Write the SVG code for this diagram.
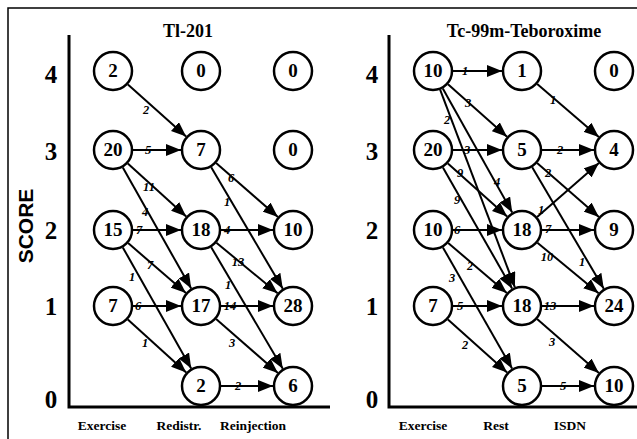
<svg xmlns="http://www.w3.org/2000/svg" width="637" height="439" viewBox="0 0 637 439">
<defs>
<marker id="ah" markerUnits="userSpaceOnUse" markerWidth="15" markerHeight="12" refX="15" refY="6" orient="auto">
<path d="M0,0 L15,6 L0,12 z" fill="#000"/>
</marker>
</defs>
<style>
.bg{fill:#fff}
.frame{stroke:#000;stroke-width:1.5;fill:none}
.axis{stroke:#000;stroke-width:3;fill:none}
.node circle{fill:#fff;stroke:#000;stroke-width:2.5}
.node text{font-family:"Liberation Serif",serif;font-weight:bold;font-size:19px;text-anchor:middle}
.edges line{stroke:#000;stroke-width:2;marker-end:url(#ah)}
.el{font-family:"Liberation Serif",serif;font-weight:bold;font-style:italic;font-size:12.5px;text-anchor:middle}
.tick{font-family:"Liberation Serif",serif;font-weight:bold;font-size:25px;text-anchor:middle}
.title{font-family:"Liberation Serif",serif;font-weight:bold;font-size:18px;text-anchor:middle}
.xl{font-family:"Liberation Serif",serif;font-weight:bold;font-size:13.5px;text-anchor:middle}
.score{font-family:"Liberation Sans",sans-serif;font-weight:bold;font-size:21px;text-anchor:middle}
</style>
<rect class="bg" x="0" y="0" width="637" height="439"/>
<path class="frame" d="M8,439 L8,8 L637,8"/>
<g id="axes">
<path class="axis" d="M69,35 L69,407 L330,407"/>
<path class="axis" d="M389,35 L389,407 L637,407"/>
<text class="score" transform="translate(33,226) rotate(-90)">SCORE</text>
<text class="tick" x="51" y="83">4</text>
<text class="tick" x="51" y="160">3</text>
<text class="tick" x="51" y="239">2</text>
<text class="tick" x="51" y="315">1</text>
<text class="tick" x="51" y="408">0</text>
<text class="tick" x="372" y="83">4</text>
<text class="tick" x="372" y="160">3</text>
<text class="tick" x="372" y="239">2</text>
<text class="tick" x="372" y="315">1</text>
<text class="tick" x="372" y="408">0</text>
<text class="title" x="188" y="37">Tl-201</text>
<text class="title" x="524" y="37">Tc-99m-Teboroxime</text>
<text class="xl" x="102" y="430">Exercise</text>
<text class="xl" x="179" y="430">Redistr.</text>
<text class="xl" x="253" y="430">Reinjection</text>
<text class="xl" x="423" y="430">Exercise</text>
<text class="xl" x="496" y="430">Rest</text>
<text class="xl" x="570" y="430">ISDN</text>
</g>
<g id="connectors" class="edges">
<line x1="127.9" y1="84.4" x2="186.1" y2="136.6"/>
<line x1="133" y1="150" x2="181" y2="150"/>
<line x1="127.8" y1="163.5" x2="186.2" y2="216.5"/>
<line x1="122.8" y1="167.4" x2="191.2" y2="288.6"/>
<line x1="216.1" y1="163.1" x2="277.9" y2="216.9"/>
<line x1="211.2" y1="167.2" x2="282.8" y2="288.8"/>
<line x1="133" y1="230" x2="181" y2="230"/>
<line x1="128.1" y1="243.1" x2="185.9" y2="292.9"/>
<line x1="122.8" y1="247.4" x2="191.2" y2="368.6"/>
<line x1="221" y1="230" x2="273" y2="230"/>
<line x1="216.4" y1="242.7" x2="277.6" y2="293.3"/>
<line x1="211.2" y1="247.2" x2="282.8" y2="368.8"/>
<line x1="133" y1="306" x2="181" y2="306"/>
<line x1="127.8" y1="319.5" x2="186.2" y2="372.5"/>
<line x1="221" y1="306" x2="273" y2="306"/>
<line x1="216.1" y1="319.1" x2="277.9" y2="372.9"/>
<line x1="221" y1="386" x2="273" y2="386"/>
<line x1="453" y1="71" x2="502" y2="71"/>
<line x1="448" y1="84.3" x2="507" y2="136.7"/>
<line x1="442.8" y1="88.5" x2="512.2" y2="212.5"/>
<line x1="440.1" y1="89.7" x2="514.9" y2="287.3"/>
<line x1="453" y1="150" x2="502" y2="150"/>
<line x1="447.9" y1="163.4" x2="507.1" y2="216.6"/>
<line x1="442.9" y1="167.4" x2="512.1" y2="288.6"/>
<line x1="537.2" y1="84" x2="598.8" y2="137"/>
<line x1="542" y1="150" x2="594" y2="150"/>
<line x1="537.1" y1="163.1" x2="598.9" y2="216.9"/>
<line x1="532.2" y1="167.2" x2="603.8" y2="288.8"/>
<line x1="537.1" y1="216.9" x2="598.9" y2="163.1"/>
<line x1="542" y1="230" x2="594" y2="230"/>
<line x1="537.4" y1="242.7" x2="598.6" y2="293.3"/>
<line x1="453" y1="230" x2="502" y2="230"/>
<line x1="448.2" y1="243" x2="506.8" y2="293"/>
<line x1="442.9" y1="247.4" x2="512.1" y2="368.6"/>
<line x1="453" y1="306" x2="502" y2="306"/>
<line x1="447.9" y1="319.4" x2="507.1" y2="372.6"/>
<line x1="542" y1="306" x2="594" y2="306"/>
<line x1="537.1" y1="319.1" x2="598.9" y2="372.9"/>
<line x1="542" y1="386" x2="594" y2="386"/>
</g>
<g id="edge-labels">
<text class="el" x="146" y="114">2</text>
<text class="el" x="148" y="154">5</text>
<text class="el" x="149" y="191">11</text>
<text class="el" x="145" y="216">4</text>
<text class="el" x="231" y="182">6</text>
<text class="el" x="227" y="206">1</text>
<text class="el" x="139" y="234">7</text>
<text class="el" x="150" y="269">7</text>
<text class="el" x="132" y="281">1</text>
<text class="el" x="227" y="234">4</text>
<text class="el" x="238" y="266">13</text>
<text class="el" x="228" y="289">1</text>
<text class="el" x="138" y="310">6</text>
<text class="el" x="145" y="347">1</text>
<text class="el" x="230" y="310">14</text>
<text class="el" x="232" y="347">3</text>
<text class="el" x="238" y="390">2</text>
<text class="el" x="465" y="75">1</text>
<text class="el" x="468" y="107">3</text>
<text class="el" x="497" y="186">4</text>
<text class="el" x="447" y="124">2</text>
<text class="el" x="467" y="154">3</text>
<text class="el" x="460" y="177">9</text>
<text class="el" x="457" y="204">9</text>
<text class="el" x="553" y="104">1</text>
<text class="el" x="560" y="154">2</text>
<text class="el" x="548" y="177">2</text>
<text class="el" x="582" y="266">1</text>
<text class="el" x="541" y="214">1</text>
<text class="el" x="548" y="233">7</text>
<text class="el" x="547" y="261">10</text>
<text class="el" x="457" y="234">6</text>
<text class="el" x="470" y="270">2</text>
<text class="el" x="452" y="282">3</text>
<text class="el" x="460" y="310">5</text>
<text class="el" x="465" y="349">2</text>
<text class="el" x="550" y="310">13</text>
<text class="el" x="552" y="346">3</text>
<text class="el" x="563" y="390">5</text>
</g>
<g id="tl-ex-4" class="node"><circle cx="113" cy="71" r="19"/><text x="113" y="77">2</text></g>
<g id="tl-rd-4" class="node"><circle cx="201" cy="71" r="19"/><text x="201" y="77">0</text></g>
<g id="tl-rj-4" class="node"><circle cx="293" cy="71" r="19"/><text x="293" y="77">0</text></g>
<g id="tl-ex-3" class="node"><circle cx="113" cy="150" r="19"/><text x="113" y="156">20</text></g>
<g id="tl-rd-3" class="node"><circle cx="201" cy="150" r="19"/><text x="201" y="156">7</text></g>
<g id="tl-rj-3" class="node"><circle cx="293" cy="150" r="19"/><text x="293" y="156">0</text></g>
<g id="tl-ex-2" class="node"><circle cx="113" cy="230" r="19"/><text x="113" y="236">15</text></g>
<g id="tl-rd-2" class="node"><circle cx="201" cy="230" r="19"/><text x="201" y="236">18</text></g>
<g id="tl-rj-2" class="node"><circle cx="293" cy="230" r="19"/><text x="293" y="236">10</text></g>
<g id="tl-ex-1" class="node"><circle cx="113" cy="306" r="19"/><text x="113" y="312">7</text></g>
<g id="tl-rd-1" class="node"><circle cx="201" cy="306" r="19"/><text x="201" y="312">17</text></g>
<g id="tl-rj-1" class="node"><circle cx="293" cy="306" r="19"/><text x="293" y="312">28</text></g>
<g id="tl-rd-0" class="node"><circle cx="201" cy="386" r="19"/><text x="201" y="392">2</text></g>
<g id="tl-rj-0" class="node"><circle cx="293" cy="386" r="19"/><text x="293" y="392">6</text></g>
<g id="tc-ex-4" class="node"><circle cx="433" cy="71" r="19"/><text x="433" y="77">10</text></g>
<g id="tc-rs-4" class="node"><circle cx="522" cy="71" r="19"/><text x="522" y="77">1</text></g>
<g id="tc-is-4" class="node"><circle cx="614" cy="71" r="19"/><text x="614" y="77">0</text></g>
<g id="tc-ex-3" class="node"><circle cx="433" cy="150" r="19"/><text x="433" y="156">20</text></g>
<g id="tc-rs-3" class="node"><circle cx="522" cy="150" r="19"/><text x="522" y="156">5</text></g>
<g id="tc-is-3" class="node"><circle cx="614" cy="150" r="19"/><text x="614" y="156">4</text></g>
<g id="tc-ex-2" class="node"><circle cx="433" cy="230" r="19"/><text x="433" y="236">10</text></g>
<g id="tc-rs-2" class="node"><circle cx="522" cy="230" r="19"/><text x="522" y="236">18</text></g>
<g id="tc-is-2" class="node"><circle cx="614" cy="230" r="19"/><text x="614" y="236">9</text></g>
<g id="tc-ex-1" class="node"><circle cx="433" cy="306" r="19"/><text x="433" y="312">7</text></g>
<g id="tc-rs-1" class="node"><circle cx="522" cy="306" r="19"/><text x="522" y="312">18</text></g>
<g id="tc-is-1" class="node"><circle cx="614" cy="306" r="19"/><text x="614" y="312">24</text></g>
<g id="tc-rs-0" class="node"><circle cx="522" cy="386" r="19"/><text x="522" y="392">5</text></g>
<g id="tc-is-0" class="node"><circle cx="614" cy="386" r="19"/><text x="614" y="392">10</text></g>
</svg>
